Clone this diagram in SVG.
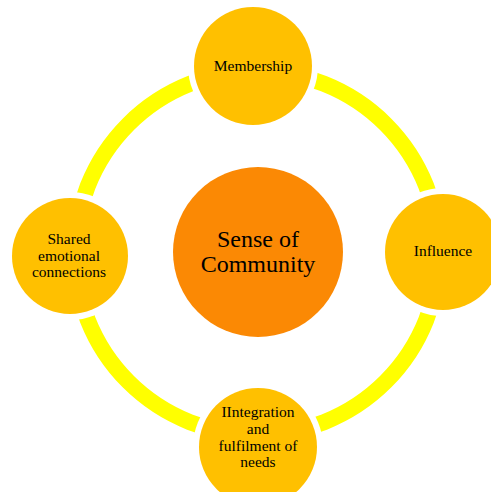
<svg xmlns="http://www.w3.org/2000/svg" width="491" height="492" viewBox="0 0 491 492">
  <style>
    .ring { fill: none; stroke: #FFFF00; stroke-width: 16; }
    .halo { fill: #FFFFFF; }
    .outer { fill: #FFC000; }
    .core { fill: #FB8904; }
    text { font-family: "Liberation Serif", "Times New Roman", serif; fill: #000000; text-anchor: middle; }
    .small { font-size: 15.5px; }
    .big { font-size: 24px; }
  </style>
  <rect width="491" height="492" fill="#FFFFFF"/>

  <!-- cycle ring linking the four satellites -->
  <g id="connectors">
    <circle class="ring" cx="257" cy="253" r="182"/>
  </g>

  <g id="node-core">
    <circle class="core" cx="258" cy="252" r="85"/>
    <text class="big" x="258" y="247">Sense of</text>
    <text class="big" x="258" y="272">Community</text>
  </g>

  <g id="node-membership">
    <circle class="halo" cx="253" cy="66" r="65"/>
    <circle class="outer" cx="253" cy="66" r="59"/>
    <text class="small" x="253" y="71">Membership</text>
  </g>

  <g id="node-influence">
    <circle class="halo" cx="443" cy="252" r="64"/>
    <circle class="outer" cx="443" cy="252" r="58"/>
    <text class="small" x="443" y="256">Influence</text>
  </g>

  <g id="node-integration">
    <circle class="halo" cx="258" cy="447" r="65"/>
    <circle class="outer" cx="258" cy="447" r="59"/>
    <text class="small" x="258" y="417">IIntegration</text>
    <text class="small" x="258" y="434">and</text>
    <text class="small" x="258" y="451">fulfilment of</text>
    <text class="small" x="258" y="467">needs</text>
  </g>

  <g id="node-shared">
    <circle class="halo" cx="70" cy="256" r="64"/>
    <circle class="outer" cx="70" cy="256" r="58"/>
    <text class="small" x="69" y="244">Shared</text>
    <text class="small" x="69" y="261">emotional</text>
    <text class="small" x="69" y="277">connections</text>
  </g>
</svg>
